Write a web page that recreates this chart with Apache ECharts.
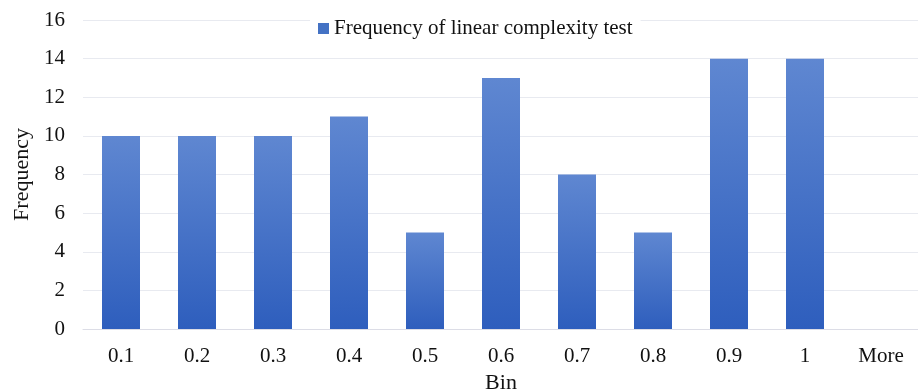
<!DOCTYPE html>
<html>
<head>
<meta charset="utf-8">
<script src="https://cdn.jsdelivr.net/npm/echarts@6/dist/echarts.min.js"></script>
<style>
  html, body { margin: 0; padding: 0; background: #ffffff; }
  #chart { width: 918px; height: 391px; }
</style>
</head>
<body>
<div id="chart"></div>
<script>
// bins and counts
const bins = ['0.1', '0.2', '0.3', '0.4', '0.5', '0.6', '0.7', '0.8', '0.9', '1', 'More']
const frequency = [10, 10, 10, 11, 5, 13, 8, 5, 14, 14, 0]
const seriesName = 'Frequency of linear complexity test'

const chart = echarts.init(document.getElementById('chart'))
const font = '"Liberation Serif", "Times New Roman", serif'

const option = {
  animation: false,
  textStyle: { fontFamily: font },
  grid: { left: 83, right: -1, top: 20, bottom: 62, containLabel: false, outerBoundsMode: 'none' },
  legend: {
    data: [{ name: seriesName, itemStyle: { color: '#4472c4' } }],
    top: 16,
    left: 310,
    icon: 'rect',
    itemWidth: 11,
    itemHeight: 11,
    itemGap: 10,
    backgroundColor: '#ffffff',
    padding: [2, 8],
    textStyle: { fontFamily: font, fontSize: 21, color: '#111' }
  },
  xAxis: {
    type: 'category',
    data: bins,
    name: 'Bin',
    nameLocation: 'middle',
    nameGap: 42,
    nameTextStyle: { fontFamily: font, fontSize: 22, color: '#111' },
    axisLine: { lineStyle: { color: '#dcdde6', width: 1 } },
    axisTick: { show: false },
    axisLabel: { fontFamily: font, fontSize: 21, color: '#111', margin: 17 }
  },
  yAxis: {
    type: 'value',
    min: 0,
    max: 16,
    interval: 2,
    name: 'Frequency',
    nameLocation: 'middle',
    nameGap: 49,
    nameTextStyle: { fontFamily: font, fontSize: 22, color: '#111' },
    axisLine: { show: false },
    axisTick: { show: false },
    axisLabel: { fontFamily: font, fontSize: 21, color: '#111', margin: 18 },
    splitLine: { lineStyle: { color: '#e8eaf0', width: 1 } }
  },
  series: [{
    name: seriesName,
    type: 'bar',
    data: frequency,
    barWidth: 38,
    itemStyle: {
      color: new echarts.graphic.LinearGradient(0, 0, 0, 1, [
        { offset: 0, color: '#5f87d1' },
        { offset: 1, color: '#2e5ebd' }
      ])
    }
  }]
}

chart.setOption(option)
</script>
</body>
</html>
